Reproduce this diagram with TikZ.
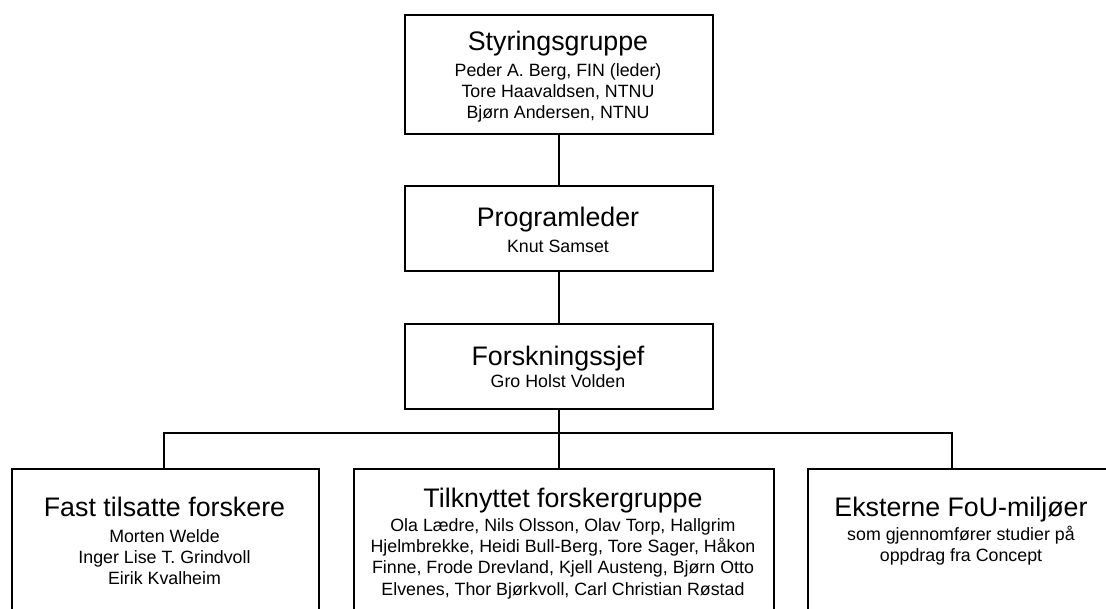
\documentclass[tikz,border=0pt]{standalone}
\usepackage{fontspec}
\setmainfont{Liberation Sans}
\newcommand{\orgtext}[3]{\parbox[t]{440pt}{\centering\fontsize{26.8}{25}\selectfont #2\\[#1pt]\fontsize{17.8}{21.3}\selectfont #3\par}}
\tikzset{
  orgbox/.style={draw=black, line width=2pt, fill=white, rectangle, inner sep=0pt, anchor=north west},
  orgtxt/.style={inner sep=0pt, anchor=base, text=black},
  link/.style={draw=black, line width=2pt}
}
\begin{document}
\begin{tikzpicture}[x=1pt,y=-1pt]
\useasboundingbox (0,0) rectangle (1106,608);
\clip (0,0) rectangle (1106,608);
\fill[white] (0,0) rectangle (1106,608);
% boxes
\node[orgbox, minimum width=308pt, minimum height=119pt] (sty) at (404,14) {};
\node[orgbox, minimum width=308pt, minimum height=85pt] (prog) at (404,185) {};
\node[orgbox, minimum width=308pt, minimum height=85pt] (fors) at (404,323) {};
\node[orgbox, minimum width=307pt, minimum height=170pt] (left) at (11,468) {};
\node[orgbox, minimum width=420pt, minimum height=170pt] (mid) at (353,468) {};
\node[orgbox, minimum width=310pt, minimum height=170pt] (right) at (807,468) {};
% texts
\node[orgtxt] (styT) at (558,50) {\orgtext{5}{Styringsgruppe}{Peder A. Berg, FIN (leder)\\Tore Haavaldsen, NTNU\\Bjørn Andersen, NTNU}};
\node[orgtxt] (progT) at (558,226.7) {\orgtext{4}{Programleder}{Knut Samset}};
\node[orgtxt] (forsT) at (558,365) {\orgtext{0.7}{Forskningssjef}{Gro Holst Volden}};
\node[orgtxt] (leftT) at (164.5,516.7) {\orgtext{4}{Fast tilsatte forskere}{Morten Welde\\Inger Lise T. Grindvoll\\Eirik Kvalheim}};
\node[orgtxt] (midT) at (563,507) {\orgtext{3}{Tilknyttet forskergruppe}{Ola Lædre, Nils Olsson, Olav Torp, Hallgrim\\Hjelmbrekke, Heidi Bull-Berg, Tore Sager, Håkon\\Finne, Frode Drevland, Kjell Austeng, Bjørn Otto\\Elvenes, Thor Bjørkvoll, Carl Christian Røstad}};
\node[orgtxt] (rightT) at (961,516.7) {\orgtext{2.3}{Eksterne FoU-miljøer}{som gjennomfører studier på\\oppdrag fra Concept}};
% connectors
\coordinate (busL) at (164,433);
\coordinate (busR) at (952,433);
\draw[link] (sty.south) -- (prog.north);
\draw[link] (prog.south) -- (fors.north);
\draw[link] (fors.south) -- (fors.south |- mid.north);
\draw[link, line cap=rect] (busL) -- (busR);
\draw[link] (busL) -- (busL |- left.north);
\draw[link] (busR) -- (busR |- right.north);
\end{tikzpicture}
\end{document}
